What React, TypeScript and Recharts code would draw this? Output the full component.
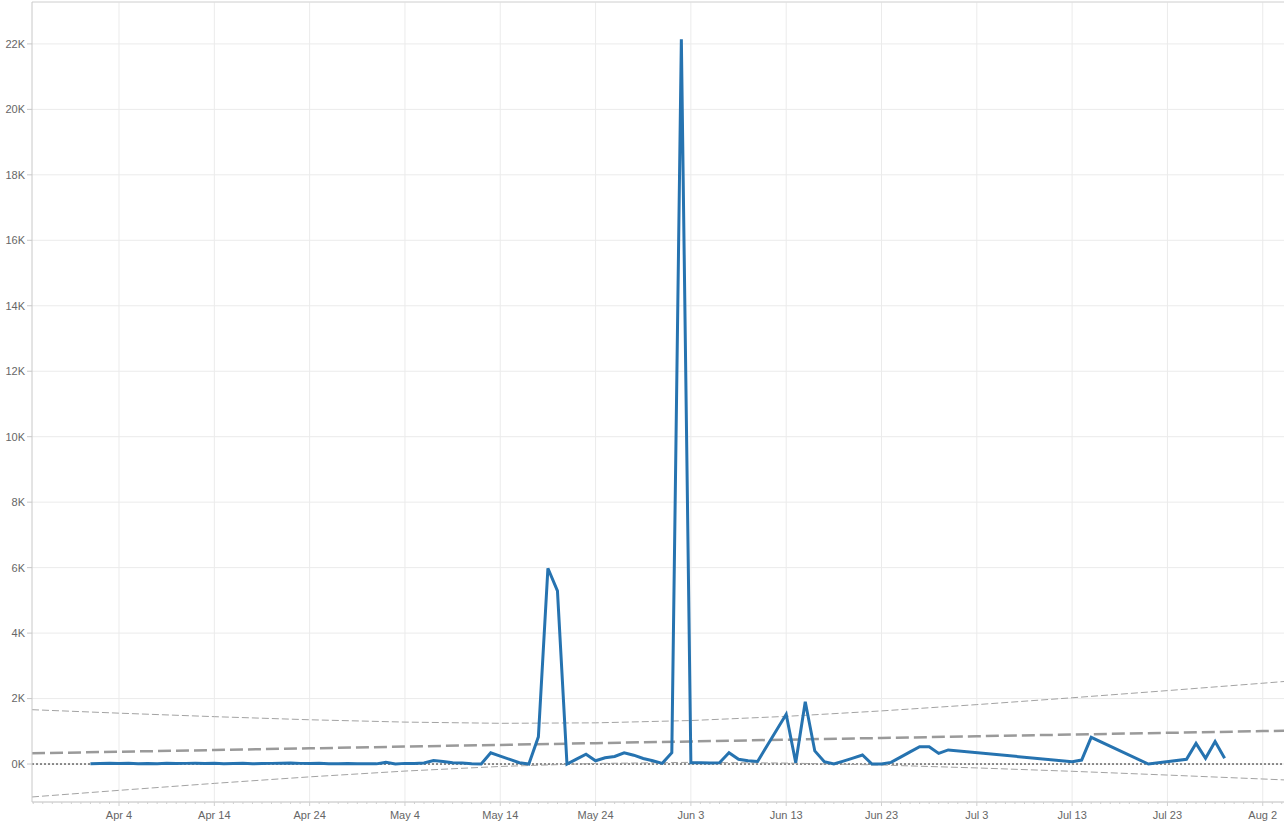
import React from 'react';
import {
  LineChart, Line, XAxis, YAxis, CartesianGrid, ReferenceLine,
} from 'recharts';

// day offsets counted from Apr 4
const days = [
  -3, -2, -1, 0, 1, 2, 3, 4, 5, 6, 7, 8, 9, 10, 11, 12, 13, 14, 15, 16, 17, 18, 19, 20,
  21, 22, 23, 24, 25, 26, 27, 28, 29, 30, 31, 32, 33, 34, 35, 36, 37, 38, 39, 40, 41, 42,
  43, 44, 45, 46, 47, 48, 49, 50, 51, 52, 53, 54, 55, 56, 57, 58, 59, 60, 61, 62, 63, 64,
  65, 66, 67, 70, 71, 72, 73, 74, 75, 76, 77, 78, 79, 80, 81, 82, 83, 84, 85, 86, 87, 100,
  101, 102, 108, 112, 113, 114, 115, 116,
];
const values = [
  10, 15, 20, 15, 20, 10, 15, 10, 20, 15, 20, 25, 15, 20, 10, 15, 20, 10, 15, 20, 25, 30, 20, 15,
  25, 10, 5, 15, 10, 10, 5, 50, 0, 20, 20, 30, 110, 80, 40, 30, 10, 0, 345, 240, 140, 40,
  0, 830, 5980, 5290, 0, 150, 300, 100, 190, 230, 345, 270, 170, 100, 20, 345, 22140, 40, 40, 35, 40, 345,
  145, 100, 80, 1520, 40, 1905, 400, 70, 0, 90, 180, 275, 0, 0, 50, 210, 370, 530, 530, 325, 430, 70,
  120, 815, 0, 145, 630, 175, 685, 175,
];

// trend line and confidence band
const trendDays = [-9.13, 0, 10, 20, 30, 40, 50, 60, 70, 80, 90, 100, 110, 120, 122.23];
const trendMid = [327, 375, 428, 480, 533, 585, 638, 690, 743, 796, 848, 901, 953, 1006, 1018];
const trendUpper = [1660, 1554, 1447, 1352, 1281, 1244, 1258, 1329, 1456, 1623, 1815, 2024, 2243, 2469, 2521];
const trendLower = [-1006, -804, -591, -392, -215, -74, 18, 51, 30, -31, -119, -222, -337, -457, -485];

const xTicks = [0, 10, 20, 30, 40, 50, 60, 70, 80, 90, 100, 110, 120];
const xTickLabels = ['Apr 4', 'Apr 14', 'Apr 24', 'May 4', 'May 14', 'May 24', 'Jun 3', 'Jun 13', 'Jun 23', 'Jul 3', 'Jul 13', 'Jul 23', 'Aug 2'];
const yTicks = [0, 2000, 4000, 6000, 8000, 10000, 12000, 14000, 16000, 18000, 20000, 22000];

const X_MIN = -9.13;
const X_MAX = 122.23;
const Y_MIN = -1160;
const Y_MAX = 23280;

// one small tick per day on the date axis
const dayTicks: number[] = [];
for (let d = -9; d <= 122; d++) dayTicks.push(d);

const series = days.map((d, i) => ({ day: d, value: values[i] }));
const trend = trendDays.map((d, i) => ({ day: d, mid: trendMid[i], upper: trendUpper[i], lower: trendLower[i] }));

const FONT = '"Liberation Sans", Arial, sans-serif';
const tickStyle = { fill: '#666', fontSize: 11, fontFamily: FONT };

const DateTick = (props: any) => {
  const { x, y, payload } = props;
  const i = xTicks.indexOf(payload.value);
  const major = i >= 0;
  return (
    <g>
      <line x1={x} x2={x} y1={y - 8} y2={y - 8 + (major ? 4 : 2)} stroke="#d0d0d0" />
      {major && (
        <text x={x} y={y + 9} textAnchor="middle" fill="#666" fontSize={11} fontFamily={FONT}>
          {xTickLabels[i]}
        </text>
      )}
    </g>
  );
};

export default function App() {
  return (
    <div style={{ position: 'absolute', left: 0, top: 0, width: 1285, height: 824, background: '#fff' }}>
      <LineChart width={1285} height={824} margin={{ top: 2, right: 1, bottom: 0, left: 0 }}>
        <CartesianGrid stroke="#ebebeb" vertical={false} />
        {xTicks.map((t) => (
          <ReferenceLine key={t} x={t} stroke="#ebebeb" />
        ))}
        <XAxis
          dataKey="day"
          type="number"
          domain={[X_MIN, X_MAX]}
          ticks={dayTicks}
          allowDuplicatedCategory={false}
          tick={<DateTick />}
          tickLine={false}
          axisLine={{ stroke: '#c8c8c8' }}
          height={22}
          interval={0}
          allowDataOverflow
        />
        <YAxis
          type="number"
          domain={[Y_MIN, Y_MAX]}
          ticks={yTicks}
          tickFormatter={(v: number) => `${v / 1000}K`}
          tick={tickStyle}
          tickSize={5}
          tickMargin={2}
          tickLine={{ stroke: '#c8c8c8' }}
          axisLine={{ stroke: '#c8c8c8' }}
          width={32}
          interval={0}
          allowDataOverflow
        />
        <ReferenceLine y={Y_MAX} stroke="#d8d8d8" ifOverflow="visible" />
        <ReferenceLine y={0} stroke="#222" strokeDasharray="2 2" strokeWidth={1} />
        <Line data={trend} dataKey="upper" stroke="#a3a3a3" strokeWidth={1} strokeDasharray="7 3" dot={false} isAnimationActive={false} />
        <Line data={trend} dataKey="lower" stroke="#a3a3a3" strokeWidth={1} strokeDasharray="7 3" dot={false} isAnimationActive={false} />
        <Line data={trend} dataKey="mid" stroke="#9a9a9a" strokeWidth={2.5} strokeDasharray="13 5" dot={false} isAnimationActive={false} />
        <Line data={series} dataKey="value" stroke="#2673b0" strokeWidth={3} dot={false} isAnimationActive={false} strokeLinejoin="miter" />
      </LineChart>
    </div>
  );
}
